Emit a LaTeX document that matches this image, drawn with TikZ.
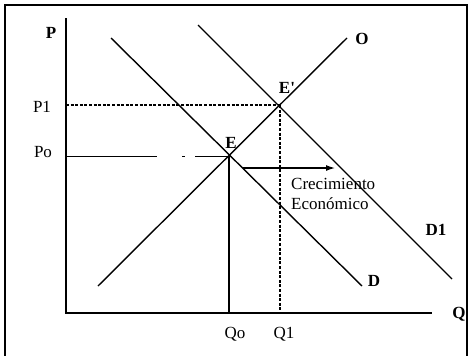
\documentclass[tikz,border=0pt]{standalone}
\usepackage{fontspec}
\setmainfont{Liberation Serif}
\usetikzlibrary{arrows.meta,positioning}

\begin{document}
\begin{tikzpicture}[
    x=1pt,y=-1pt,
    curve/.style={line width=1.4pt},
    axis/.style={line width=2.6pt},
    guide/.style={dash pattern=on 3pt off 1.6pt,line width=1.1pt},
    lbl/.style={font=\fontsize{17}{20}\selectfont\bfseries,inner sep=1pt},
    val/.style={font=\fontsize{17}{20}\selectfont,inner sep=1pt},
    >={Latex[length=9pt,width=6pt]}
  ]
    \useasboundingbox (0,0) rectangle (472,356);
    % frame
    \draw[line width=1.6pt] (5,356) |- (467,5) -- (467,356);

    % axes
    \coordinate (orig) at (66,313);
    \coordinate (ytop) at (66,18);
    \coordinate (xend) at (432,313);
    \draw[axis] (ytop) -- (orig) -- (xend);
    \node[lbl] (P) at (51,33) {P};
    \node[lbl] (Q) at (459,314) {Q};

    % supply and demand curves
    \coordinate (o1) at (98,286);   \coordinate (o2) at (347,38);
    \coordinate (d1) at (111,38);   \coordinate (d2) at (362,286);
    \coordinate (dd1) at (198,25);  \coordinate (dd2) at (452,279);
    \draw[curve] (o1) -- (o2);
    \draw[curve] (d1) -- (d2);
    \draw[curve] (dd1) -- (dd2);
    \node[lbl] (O) at (362,39) {O};
    \node[lbl] (D) at (374,281) {D};
    \node[lbl] (D1) at (436,230) {D1};

    % equilibria
    \coordinate (E) at (229,156);
    \coordinate (Ep) at (280,105);
    \node[lbl] (Elab) at (231,143) {E};
    \node[lbl] (Eplab) at (287,88) {E\textquotesingle};

    % price and quantity guides
    \coordinate (p0) at (66,156);
    \coordinate (p1) at (66,105);
    \coordinate (q0) at (229,313);
    \coordinate (q1) at (280,313);
    \draw[line width=1pt,dash pattern=on 91pt off 25pt on 3pt off 10pt on 40pt] (p0) -- (E);
    \draw[guide] (p1) -- (Ep);
    \draw[line width=1.4pt] (E) -- (q0);
    \draw[guide] (Ep) -- (q1);
    \node[val] (Po) at (43,152) {Po};
    \node[val] (P1) at (42,107) {P1};
    \node[val] (Qo) at (235,334) {Qo};
    \node[val] (Q1) at (284,334) {Q1};

    % shift of demand
    \coordinate (a1) at (243,168);
    \coordinate (a2) at (335,168);
    \draw[->,line width=1.2pt] (a1) -- (a2);
    \node[val,anchor=west,align=left] (crec) at (290,194) {Crecimiento\\Económico};
  \end{tikzpicture}
\end{document}
